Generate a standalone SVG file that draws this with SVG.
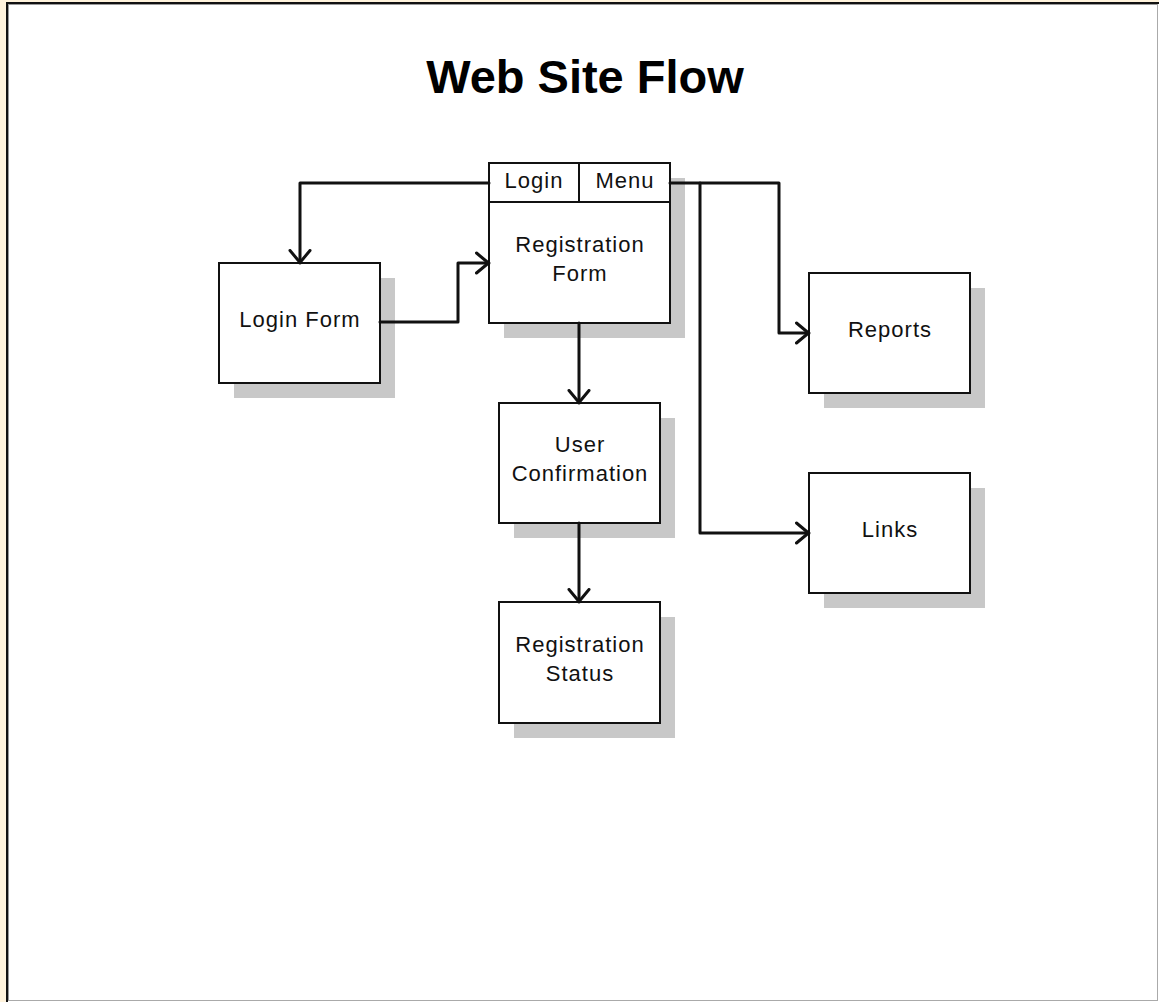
<svg xmlns="http://www.w3.org/2000/svg" width="1159" height="1002" viewBox="0 0 1159 1002">
<style>
.box{fill:#fff;stroke:#111;stroke-width:2}
.shadow{fill:#c8c8c8}
.lbl{font-family:"Liberation Sans",Arial,sans-serif;font-size:22px;letter-spacing:1px;fill:#111;text-anchor:middle}
.title{font-family:"Liberation Sans",Arial,sans-serif;font-size:47px;font-weight:bold;fill:#000;text-anchor:middle}
.conn{fill:none;stroke:#111;stroke-width:3;stroke-linejoin:round;stroke-linecap:round}
</style>
<defs>
<marker id="arr" viewBox="0 0 16 24" refX="14.5" refY="12" markerWidth="16" markerHeight="24" markerUnits="userSpaceOnUse" orient="auto">
<path d="M2,2 L14,12 L2,22" fill="none" stroke="#111" stroke-width="3" stroke-linecap="round" stroke-linejoin="round"/>
</marker>
</defs>
<rect x="0" y="0" width="1159" height="1002" fill="#fff3dc"/>
<rect x="6" y="2" width="1153" height="1000" fill="#fff"/>
<line x1="6" y1="3" x2="1159" y2="3" stroke="#111" stroke-width="2"/>
<line x1="7" y1="2" x2="7" y2="1002" stroke="#111" stroke-width="2"/>
<line x1="8" y1="4.5" x2="1157" y2="4.5" stroke="#999" stroke-width="1"/>
<line x1="8.5" y1="4" x2="8.5" y2="1000" stroke="#999" stroke-width="1"/>
<line x1="1157.5" y1="4" x2="1157.5" y2="1001" stroke="#aaa" stroke-width="1"/>
<line x1="8" y1="1000.5" x2="1158" y2="1000.5" stroke="#aaa" stroke-width="1"/>

<text class="title" x="585" y="93">Web Site Flow</text>

<g id="login-form">
<rect class="shadow" x="234" y="278" width="161" height="120"/>
<rect class="box" x="219" y="263" width="161" height="120"/>
<text class="lbl" x="300" y="327">Login Form</text>
</g>

<g id="registration-form">
<rect class="shadow" x="504" y="178" width="181" height="160"/>
<rect class="box" x="489" y="163" width="181" height="160"/>
<line x1="489" y1="202" x2="670" y2="202" stroke="#111" stroke-width="2"/>
<line x1="579" y1="163" x2="579" y2="202" stroke="#111" stroke-width="2"/>
<text class="lbl" x="534" y="188">Login</text>
<text class="lbl" x="625" y="188">Menu</text>
<text class="lbl" x="580" y="252">Registration</text>
<text class="lbl" x="580" y="281">Form</text>
</g>

<g id="user-confirmation">
<rect class="shadow" x="514" y="418" width="161" height="120"/>
<rect class="box" x="499" y="403" width="161" height="120"/>
<text class="lbl" x="580" y="452">User</text>
<text class="lbl" x="580" y="481">Confirmation</text>
</g>

<g id="registration-status">
<rect class="shadow" x="514" y="617" width="161" height="121"/>
<rect class="box" x="499" y="602" width="161" height="121"/>
<text class="lbl" x="580" y="652">Registration</text>
<text class="lbl" x="580" y="681">Status</text>
</g>

<g id="reports">
<rect class="shadow" x="824" y="288" width="161" height="120"/>
<rect class="box" x="809" y="273" width="161" height="120"/>
<text class="lbl" x="890" y="337">Reports</text>
</g>

<g id="links">
<rect class="shadow" x="824" y="488" width="161" height="120"/>
<rect class="box" x="809" y="473" width="161" height="120"/>
<text class="lbl" x="890" y="537">Links</text>
</g>

<g id="connectors">
<path class="conn" d="M489,183 L300,183 L300,263" marker-end="url(#arr)"/>
<path class="conn" d="M380,322 L458,322 L458,263 L489,263" marker-end="url(#arr)"/>
<path class="conn" d="M579,323 L579,403" marker-end="url(#arr)"/>
<path class="conn" d="M579,523 L579,602" marker-end="url(#arr)"/>
<path class="conn" d="M670,183 L779,183 L779,333 L809,333" marker-end="url(#arr)"/>
<path class="conn" d="M700,183 L700,533 L809,533" marker-end="url(#arr)"/>
</g>
</svg>
